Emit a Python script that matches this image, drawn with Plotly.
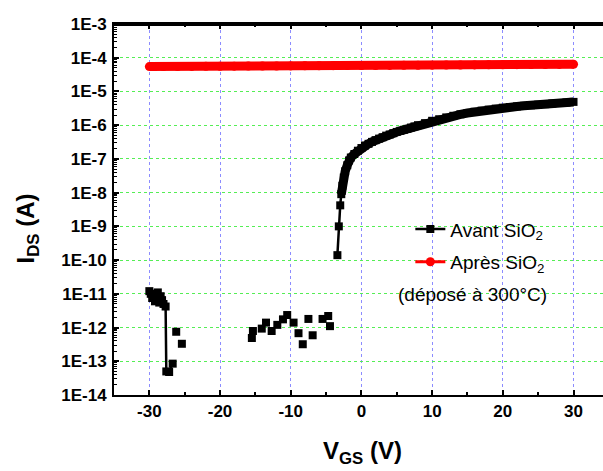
import plotly.graph_objects as go

# ---------------- data ----------------
# "Avant SiO2" (black squares); None = gap (no plotted value, line broken)
avant_v = [-30.0, -29.8, -29.6, -29.4, -29.2, -29.0, -28.8, -28.6, -28.4, -28.2, -28.0, -27.7, -27.6, -27.2, -26.7,
           None, -26.2, None, -25.4, None,
           -15.5, None, -15.35, None, -14.1, None, -13.5, None, -12.7, None, -11.9, None, -11.1, None,
           -10.5, None, -9.6, None, -8.9, None, -8.3, None, -7.5, None, -6.9, None, -5.5, None,
           -4.7, None, -4.45, None,
           -3.4, -3.2, -3.0, -2.85, -2.7, -2.5, -2.3, -2.0, -1.75, -1.5, -1.0, -0.5, 0.0, 0.5,
           1.0, 1.5, 2.0, 2.5, 3.0, 3.5, 4.0, 4.5, 5.0, 5.5, 6.0, 6.5, 7.0, 7.5, 8.0, 9.0,
           10.0, 11.0, 12.0, 13.0, 14.0, 15.0, 16.0, 17.0, 18.0, 19.0, 20.0, 21.0, 22.0, 23.0,
           24.0, 25.0, 26.0, 27.0, 28.0, 29.0, 30.0]
avant_i = [1.2e-11, 1.0e-11, 7.5e-12, 1.0e-11, 6.0e-12, 8.0e-12, 1.1e-11, 5.5e-12, 8.5e-12, 6.5e-12, 5.0e-12, 4.2e-12, 5.0e-14, 4.8e-14, 8.5e-14,
           None, 7.5e-13, None, 3.3e-13, None,
           4.9e-13, None, 7.9e-13, None, 9.3e-13, None, 1.4e-12, None, 7.9e-13, None, 1.2e-12, None, 1.75e-12, None,
           2.35e-12, None, 1.4e-12, None, 6.8e-13, None, 3.2e-13, None, 1.8e-12, None, 5.9e-13, None, 1.8e-12, None,
           2.2e-12, None, 1.1e-12, None,
           1.4e-10, 1.0e-9, 4.2e-9, 9.0e-9, 1.6e-8, 2.8e-8, 4.3e-8, 6.5e-8, 9.0e-8, 1.1e-7, 1.4e-7, 1.75e-7, 2.1e-7, 2.5e-7,
           2.8e-7, 3.2e-7, 3.6e-7, 4.0e-7, 4.4e-7, 4.9e-7, 5.3e-7, 5.8e-7, 6.3e-7, 6.8e-7, 7.3e-7, 7.8e-7, 8.5e-7, 9.2e-7, 1.0e-6, 1.15e-6,
           1.35e-6, 1.5e-6, 1.7e-6, 1.9e-6, 2.1e-6, 2.3e-6, 2.5e-6, 2.7e-6, 2.9e-6, 3.1e-6, 3.3e-6, 3.45e-6, 3.6e-6, 3.75e-6,
           3.9e-6, 4.05e-6, 4.2e-6, 4.4e-6, 4.55e-6, 4.7e-6, 4.9e-6]

# "Après SiO2" (red circles)
apres_v = [-30, -28, -26, -24, -22, -20, -18, -16, -14, -12, -10, -8, -6, -4, -2, 0,
           2, 4, 6, 8, 10, 12, 14, 16, 18, 20, 22, 24, 26, 28, 30]
apres_i = [5.45e-5, 5.48e-5, 5.50e-5, 5.53e-5, 5.56e-5, 5.58e-5, 5.61e-5, 5.64e-5, 5.67e-5, 5.70e-5,
           5.72e-5, 5.75e-5, 5.78e-5, 5.81e-5, 5.84e-5, 5.87e-5, 5.90e-5, 5.93e-5, 5.96e-5, 5.99e-5,
           6.02e-5, 6.05e-5, 6.08e-5, 6.12e-5, 6.15e-5, 6.18e-5, 6.22e-5, 6.26e-5, 6.30e-5, 6.35e-5, 6.40e-5]

x_range = [-35, 34.17]
x_tickvals = [-30, -20, -10, 0, 10, 20, 30]
x_ticktext = ["-30", "-20", "-10", "0", "10", "20", "30"]
y_tickvals = [1e-14, 1e-13, 1e-12, 1e-11, 1e-10, 1e-9, 1e-8, 1e-7, 1e-6, 1e-5, 1e-4, 1e-3]
y_ticktext = ["1E-14", "1E-13", "1E-12", "1E-11", "1E-10", "1E-9", "1E-8", "1E-7", "1E-6", "1E-5", "1E-4", "1E-3"]
y_minor = [m * d for d in y_tickvals[:-1] for m in range(2, 10)]

# dense (on-state) part of the black curve, drawn as a thick band
dense_v = [v for v, i in zip(avant_v, avant_i) if v is not None and v >= -2.85]
dense_i = [i for v, i in zip(avant_v, avant_i) if v is not None and v >= -2.85]

FONT = "Liberation Sans, Arial, sans-serif"

fig = go.Figure()
# thick bands (no legend)
fig.add_trace(go.Scatter(x=apres_v, y=apres_i, mode="lines", line=dict(color="#ff0000", width=9),
                         showlegend=False, hoverinfo="skip"))
fig.add_trace(go.Scatter(x=dense_v, y=dense_i, mode="lines", line=dict(color="#000000", width=9),
                         showlegend=False, hoverinfo="skip"))
# legend traces
fig.add_trace(go.Scatter(x=avant_v, y=avant_i, mode="lines+markers", name="Avant SiO<sub>2</sub>",
                         line=dict(color="#000000", width=2.5), connectgaps=False,
                         marker=dict(symbol="square", size=8, color="#000000"), legendgroup="a"))
fig.add_trace(go.Scatter(x=apres_v, y=apres_i, mode="lines+markers", name="Après SiO<sub>2</sub>",
                         line=dict(color="#ff0000", width=3),
                         marker=dict(symbol="circle", size=9, color="#ff0000"), legendgroup="b"))

fig.update_layout(
    width=603, height=471,
    margin=dict(l=114, r=0, t=24, b=76),
    paper_bgcolor="white", plot_bgcolor="white",
    font=dict(family=FONT, color="black"),
    legend=dict(x=0.606, y=0.498, xanchor="left", yanchor="top", bgcolor="rgba(0,0,0,0)",
                font=dict(family=FONT, size=19, color="black"), tracegroupgap=5),
    xaxis=dict(range=x_range, tickmode="array", tickvals=x_tickvals, ticktext=x_ticktext,
               ticks="inside", ticklen=5, tickwidth=2, tickcolor="black",
               showline=True, linewidth=2, linecolor="black", mirror="allticks",
               showgrid=True, gridcolor="#8c8cff", griddash="dot", gridwidth=1, zeroline=False,
               tickfont=dict(family=FONT, size=17, weight="bold"),
               minor=dict(dtick=5, tick0=0, ticks="inside", ticklen=3, tickwidth=2, tickcolor="black", showgrid=False)),
    yaxis=dict(type="log", range=[-14, -3], tickmode="array", tickvals=y_tickvals, ticktext=y_ticktext,
               ticks="inside", ticklen=5, tickwidth=2, tickcolor="black",
               showline=True, linewidth=2, linecolor="black", mirror=False,
               showgrid=True, gridcolor="#55ee55", griddash="dot", gridwidth=1, zeroline=False,
               tickfont=dict(family=FONT, size=17, weight="bold"), ticklabelstandoff=2,
               minor=dict(tickmode="array", tickvals=y_minor, ticks="inside", ticklen=3, tickwidth=1,
                          tickcolor="black", showgrid=False)),
    shapes=[dict(type="line", xref="paper", yref="paper", x0=0, x1=1, y0=0.998, y1=0.998,
                 line=dict(color="black", width=2.5), layer="above")],
    annotations=[
        dict(text="V<sub>GS</sub> (V)", xref="paper", yref="paper", x=(362.5 - 114) / 489, y=0,
             xanchor="center", yanchor="top", yshift=-40, showarrow=False,
             font=dict(family=FONT, size=24, weight="bold")),
        dict(text="I<sub>DS</sub> (A)", xref="paper", yref="paper", x=(27 - 114) / 489, y=(395 - 228.5) / 371,
             xanchor="center", yanchor="middle", textangle=-90, showarrow=False,
             font=dict(family=FONT, size=24, weight="bold")),
        dict(text="(déposé à 300°C)", xref="paper", yref="paper", x=(396 - 114) / 489, y=(395 - 294) / 371,
             xanchor="left", yanchor="middle", showarrow=False,
             font=dict(family=FONT, size=19)),
    ],
)

fig.write_html("out.html", config={"displayModeBar": False},
               post_script="document.body.style.margin='0';document.body.style.overflow='hidden';")
